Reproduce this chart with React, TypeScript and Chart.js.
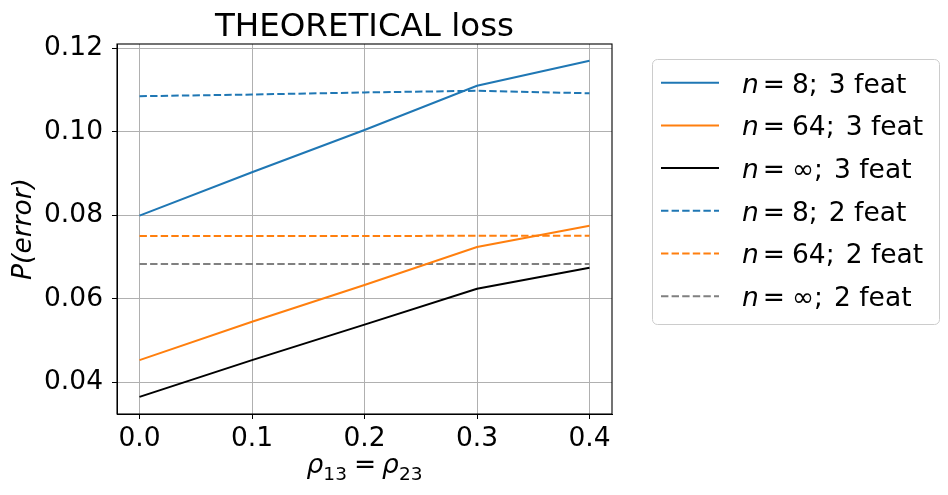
import { useEffect, useRef } from "react";
import { Chart, registerables } from "chart.js";

Chart.register(...registerables);

const xValues = [0, 0.1, 0.2, 0.3, 0.4];
const xTicks = [0, 0.1, 0.2, 0.3, 0.4];
const yTicks = [0.04, 0.06, 0.08, 0.1, 0.12];

const n8Feat3 = [0.0799, 0.0903, 0.1004, 0.111, 0.117];
const n64Feat3 = [0.0453, 0.0545, 0.0633, 0.0724, 0.0775];
const nInfFeat3 = [0.0365, 0.0453, 0.0538, 0.0624, 0.0674];
const n8Feat2 = [0.1085, 0.1089, 0.1094, 0.1098, 0.1092];
const n64Feat2 = [0.075, 0.075, 0.075, 0.0751, 0.0751];
const nInfFeat2 = [0.0683, 0.0683, 0.0683, 0.0683, 0.0683];

const nLabels = ["8", "64", "∞", "8", "64", "∞"];
const featLabels = ["3 feat", "3 feat", "3 feat", "2 feat", "2 feat", "2 feat"];
const titleText = "THEORETICAL loss";

const FONT = '"DejaVu Sans"';
const FS = 26.5;
const BLUE = "#1f77b4";
const ORANGE = "#ff7f0e";
const BLACK = "#000000";
const GRAY = "#808080";
const DASH = [7.4, 3.2];

const seriesStyles = [
  { data: n8Feat3, color: BLUE, dash: [] as number[] },
  { data: n64Feat3, color: ORANGE, dash: [] as number[] },
  { data: nInfFeat3, color: BLACK, dash: [] as number[] },
  { data: n8Feat2, color: BLUE, dash: DASH },
  { data: n64Feat2, color: ORANGE, dash: DASH },
  { data: nInfFeat2, color: GRAY, dash: DASH },
];

const overlay = {
  id: "overlay",
  afterDraw(chart: any) {
    const ctx = chart.ctx as CanvasRenderingContext2D;
    const ca = chart.chartArea;
    ctx.save();
    // spines
    ctx.strokeStyle = "#000";
    ctx.lineWidth = 1.1;
    ctx.setLineDash([]);
    ctx.strokeRect(ca.left, ca.top, ca.right - ca.left, ca.bottom - ca.top);

    // title
    ctx.fillStyle = "#000";
    ctx.font = `32.5px ${FONT}`;
    ctx.textAlign = "center";
    ctx.textBaseline = "alphabetic";
    ctx.fillText(titleText, (ca.left + ca.right) / 2, 36);

    // y title
    ctx.save();
    ctx.translate(31, (ca.top + ca.bottom) / 2);
    ctx.rotate(-Math.PI / 2);
    ctx.font = `italic ${FS}px ${FONT}`;
    ctx.textAlign = "center";
    ctx.fillText("P(error)", 0, 0);
    ctx.restore();

    // x title: ρ13 = ρ23
    const parts = [
      { t: "ρ", f: `italic ${FS}px ${FONT}`, dy: 0, gap: 0 },
      { t: "13", f: `18.5px ${FONT}`, dy: 7, gap: 7 },
      { t: "=", f: `${FS}px ${FONT}`, dy: 0, gap: 6 },
      { t: "ρ", f: `italic ${FS}px ${FONT}`, dy: 0, gap: 0 },
      { t: "23", f: `18.5px ${FONT}`, dy: 7, gap: 0 },
    ];
    let total = 0;
    const widths = parts.map((p) => {
      ctx.font = p.f;
      const w = ctx.measureText(p.t).width + p.gap;
      total += w;
      return w;
    });
    let x = (ca.left + ca.right) / 2 - total / 2;
    ctx.textAlign = "left";
    parts.forEach((p, i) => {
      ctx.font = p.f;
      ctx.fillText(p.t, x, 473 + p.dy);
      x += widths[i];
    });

    // legend
    const lx = 652, ly = 59, lw = 287, lh = 265;
    ctx.beginPath();
    (ctx as any).roundRect(lx + 0.5, ly + 0.5, lw, lh, 5);
    ctx.fillStyle = "rgba(255,255,255,0.8)";
    ctx.fill();
    ctx.strokeStyle = "#cccccc";
    ctx.lineWidth = 1;
    ctx.stroke();

    seriesStyles.forEach((s, i) => {
      const cy = 82.7 + i * 42.7;
      ctx.beginPath();
      ctx.strokeStyle = s.color;
      ctx.lineWidth = 2;
      ctx.setLineDash(s.dash);
      ctx.moveTo(661, cy);
      ctx.lineTo(719, cy);
      ctx.stroke();
      ctx.setLineDash([]);
      ctx.fillStyle = "#000";
      let tx = 742;
      const base = cy + 9.8;
      ctx.font = `italic ${FS}px ${FONT}`;
      ctx.fillText("n", tx, base);
      tx += ctx.measureText("n").width + 4;
      ctx.font = `${FS}px ${FONT}`;
      ctx.fillText("=", tx, base);
      tx += ctx.measureText("=").width + 7;
      const rest = nLabels[i] + ";";
      ctx.fillText(rest, tx, base);
      tx += ctx.measureText(rest).width + 11;
      ctx.fillText(featLabels[i], tx, base);
    });
    ctx.restore();
  },
};

export default function App() {
  const ref = useRef<HTMLCanvasElement | null>(null);
  useEffect(() => {
    if (!ref.current) return;
    const chart = new Chart(ref.current, {
      type: "line",
      data: {
        datasets: seriesStyles.map((s, i) => ({
          label: nLabels[i] + " " + featLabels[i],
          data: xValues.map((x, j) => ({ x, y: s.data[j] })),
          borderColor: s.color,
          backgroundColor: s.color,
          borderWidth: 2,
          borderDash: s.dash,
          pointRadius: 0,
          fill: false,
          tension: 0,
        })),
      },
      options: {
        animation: false,
        responsive: false,
        devicePixelRatio: 1,
        layout: { padding: { left: 0, top: 44, right: 336, bottom: 0 } },
        plugins: { legend: { display: false }, title: { display: false }, tooltip: { enabled: false } },
        scales: {
          x: {
            type: "linear",
            min: -0.02,
            max: 0.42,
            afterBuildTicks: (scale: any) => {
              scale.ticks = xTicks.map((v) => ({ value: v }));
            },
            afterFit: (scale: any) => {
              scale.height = 81;
            },
            ticks: {
              callback: (v: any) => Number(v).toFixed(1),
              font: { family: "DejaVu Sans", size: FS },
              color: "#000",
              padding: 4,
              maxRotation: 0,
            },
            grid: { color: "#b0b0b0", lineWidth: 1, tickLength: 5, tickColor: "#000", drawTicks: true },
            border: { color: "#000", width: 1 },
          },
          y: {
            type: "linear",
            min: 0.0324,
            max: 0.121,
            afterBuildTicks: (scale: any) => {
              scale.ticks = yTicks.map((v) => ({ value: v }));
            },
            afterFit: (scale: any) => {
              scale.width = 117;
            },
            ticks: {
              callback: (v: any) => Number(v).toFixed(2),
              font: { family: "DejaVu Sans", size: FS },
              color: "#000",
              padding: 9,
            },
            grid: { color: "#b0b0b0", lineWidth: 1, tickLength: 5, tickColor: "#000", drawTicks: true },
            border: { color: "#000", width: 1 },
          },
        },
      },
      plugins: [overlay],
    });
    return () => chart.destroy();
  }, []);
  return (
    <div style={{ position: "fixed", left: 0, top: 0, width: 948, height: 495, background: "#fff" }}>
      <canvas ref={ref} width={948} height={495} />
    </div>
  );
}
